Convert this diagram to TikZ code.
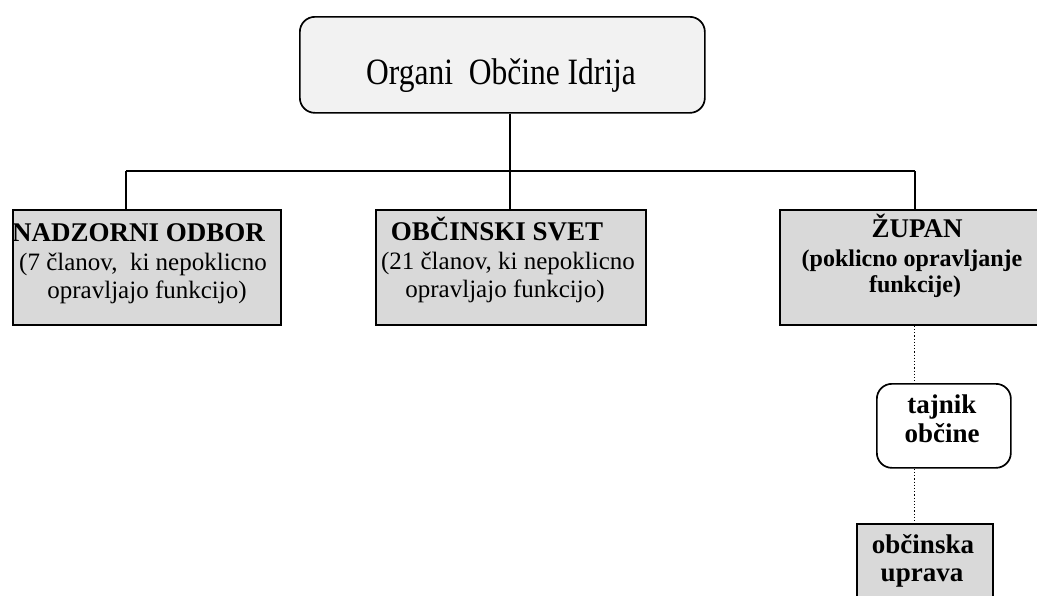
\documentclass[tikz,border=0pt]{standalone}
\usepackage{fontspec}
\setmainfont{Liberation Serif}
\definecolor{boxgray}{HTML}{D9D9D9}
\definecolor{topgray}{HTML}{F2F2F2}
\begin{document}
\begin{tikzpicture}[x=1pt,y=-1pt,
  frame/.style={draw=black, line width=1.7pt, inner sep=0pt, anchor=north west},
  graybox/.style={frame, fill=boxgray},
  roundbox/.style={frame, rounded corners=15pt},
  conn/.style={line width=1.6pt},
  dotconn/.style={line width=1.2pt, dotted},
  txt/.style={inner sep=0pt, anchor=base},
  head/.style={txt, font=\fontsize{27}{30}\selectfont\bfseries},
  reg/.style={txt, font=\fontsize{25}{29}\selectfont},
  bsub/.style={txt, font=\fontsize{24}{28}\selectfont\bfseries}
]
\useasboundingbox (0,0) rectangle (1037,595);
\clip (0,0) rectangle (1037,595);
\fill[white] (0,0) rectangle (1037,595);

% boxes
\node[roundbox, fill=topgray, minimum width=405pt, minimum height=96pt] (top) at (299,16) {};
\node[graybox, minimum width=268pt, minimum height=115pt] (nad) at (12,209) {};
\node[graybox, minimum width=270pt, minimum height=115pt] (obc) at (375,209) {};
\node[graybox, minimum width=270pt, minimum height=115pt] (zup) at (779,209) {};
\node[roundbox, fill=white, minimum width=134pt, minimum height=84pt] (taj) at (876,383) {};
\node[graybox, minimum width=136pt, minimum height=100pt] (upr) at (856,523) {};

% texts
\node[txt, font=\fontsize{31.5}{34}\selectfont] (topT) at (501,84) {\scalebox{1}[1.18]{Organi\ \ Občine Idrija}};

\node[head, anchor=base west] (nad1) at (12,241) {NADZORNI ODBOR};
\node[reg] (nad2) at (143,270) {(7 članov,\ \ ki nepoklicno};
\node[reg] (nad3) at (147,298) {opravljajo funkcijo)};

\node[head] (obc1) at (497,240) {OBČINSKI SVET};
\node[reg] (obc2) at (508,269) {(21 članov, ki nepoklicno};
\node[reg] (obc3) at (505,297) {opravljajo funkcijo)};

\node[head] (zup1) at (917,237) {ŽUPAN};
\node[bsub] (zup2) at (912,266) {(poklicno opravljanje};
\node[bsub] (zup3) at (915,292) {funkcije)};

\node[head] (taj1) at (942,413) {tajnik};
\node[head] (taj2) at (942,442) {občine};

\node[head] (upr1) at (923,553) {občinska};
\node[head] (upr2) at (922,581) {uprava};

% connectors
\coordinate (hub) at (510,171);
\coordinate (lft) at (126,171);
\draw[conn] (top.south -| hub) -- (hub);
\draw[conn] (lft) -- (zup.north |- hub);
\draw[conn] (nad.north -| lft) -- (lft);
\draw[conn] (obc.north -| hub) -- (hub);
\draw[conn] (zup.north) -- (zup.north |- hub);
\draw[dotconn] (zup.south) -- (zup.south |- taj.north);
\draw[dotconn] (zup.south |- taj.south) -- (zup.south |- upr.north);
\end{tikzpicture}
\end{document}
